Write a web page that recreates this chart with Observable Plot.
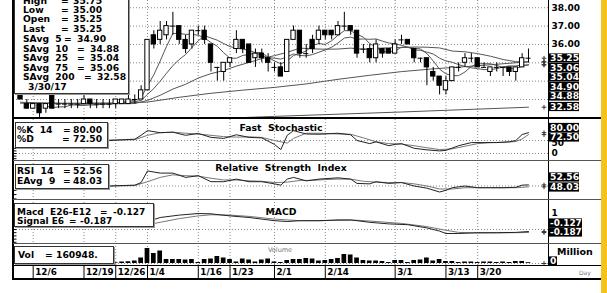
<!DOCTYPE html>
<html><head><meta charset="utf-8">
<script src="https://cdn.jsdelivr.net/npm/d3@7"></script>
<script src="https://cdn.jsdelivr.net/npm/@observablehq/plot@0.6"></script>
<style>
html,body{margin:0;padding:0;background:#fff;}
#wrap{position:relative;width:607px;height:293px;overflow:hidden;background:#fff;}
.box{position:absolute;background:#fff;border:1px solid #333;box-shadow:1px 1px 0 #9a9a9a;}
.t{position:absolute;font-family:"DejaVu Sans",sans-serif;font-weight:bold;font-size:9.2px;white-space:pre;line-height:1;transform:translateY(-50%);color:#000;}
.ln{position:absolute;}
</style></head><body><div id="wrap"></div>
<script>
// ---------------- DATA ----------------
const N = 81; // trading days, index 0 .. 80 (last = 3/30/17)
const dateLabels  = ["12/6","12/19","12/26","1/4","1/16","1/23","2/1","2/14","3/1","3/13","3/20"];
const dateLabelAt = [2, 10, 15, 20, 28, 33, 40, 48, 59, 67, 72];   // trading-day index of each label
const priceTicks  = [36, 37, 38];
const priceGrid   = [33, 34, 35, 36, 37, 38];
const stochTicks  = [0, 50];
const macdTicks   = [1];

const opens  = [33.25,32.75,32.5,32.75,32.5,33.25,32.75,32.75,32.75,32.75,32.75,33.0,32.75,32.75,32.75,32.75,32.75,32.75,33.0,33.0,
  33.5,36.5,36.25,36.5,37.0,37.0,36.25,36.0,36.75,36.75,36.0,34.75,34.5,35.0,35.75,36.25,36.0,35.25,35.5,35.25,
  34.75,34.75,34.5,36.25,36.75,35.5,36.25,36.25,36.75,36.75,36.5,37.0,37.0,36.75,35.75,35.75,35.25,35.75,35.75,35.5,
  36.25,36.25,35.75,35.25,35.25,34.5,34.25,33.5,34.0,34.75,35.0,35.25,35.25,34.75,34.5,34.75,34.75,34.75,34.5,34.75,35.25];
const highs  = [33.5,33.0,32.75,32.75,32.75,33.25,33.0,33.0,33.0,33.0,33.25,33.0,33.0,33.0,33.0,33.0,33.0,33.25,33.25,33.75,
  36.25,36.75,37.25,37.25,37.75,37.0,36.5,36.75,37.0,37.0,36.0,34.75,35.0,35.25,36.75,36.25,36.0,35.75,35.75,35.5,
  35.0,35.0,36.25,37.0,36.75,36.0,36.5,37.0,36.75,36.75,37.25,37.75,37.0,36.75,36.0,36.0,36.25,35.75,35.75,36.25,
  36.5,36.25,35.75,35.25,35.25,34.75,34.25,34.25,34.75,35.0,35.5,35.5,35.25,35.0,34.75,35.0,34.75,34.75,34.75,35.5,35.75];
const lows   = [33.0,32.5,32.5,32.0,32.25,32.5,32.5,32.5,32.5,32.5,32.75,32.5,32.5,32.5,32.5,32.5,32.75,32.75,32.75,33.0,
  33.5,35.75,36.0,36.25,36.5,36.0,35.5,35.75,36.5,36.0,34.5,34.0,34.0,34.75,35.5,35.5,35.0,34.75,35.0,34.5,
  34.5,34.25,34.5,36.25,35.25,35.25,35.5,36.0,36.25,36.25,36.5,36.75,36.5,35.25,35.5,35.0,35.0,35.25,35.5,35.5,
  36.0,36.0,35.0,35.0,33.75,34.0,33.25,33.25,34.0,34.5,34.75,35.0,34.75,34.75,34.25,34.5,34.25,34.25,34.0,34.75,35.0];
const closes = [33.0,32.5,32.75,32.25,32.75,32.5,32.75,32.75,32.75,32.75,33.0,32.75,32.75,32.75,32.75,33.0,33.0,33.0,33.0,33.5,
  36.25,36.0,36.75,37.0,37.0,36.25,35.75,36.75,36.75,36.25,35.0,34.75,35.0,35.25,36.25,35.75,35.0,35.5,35.25,35.0,
  34.75,34.25,36.25,36.75,35.5,35.5,35.75,36.75,36.5,36.5,37.0,37.0,36.75,35.5,35.75,35.25,36.0,35.5,35.5,36.0,
  36.25,36.0,35.25,35.25,34.75,34.25,33.75,34.0,34.75,34.75,35.25,35.25,34.75,34.75,34.75,34.75,34.75,34.5,34.75,35.25,35.25];
// volume, millions of shares
const volumes = [0.25,0.3,0.25,0.3,0.25,0.3,0.25,0.25,0.3,0.25,0.25,0.3,0.25,0.25,0.3,0.15,0.3,0.35,0.5,1.1,
  3.0,2.0,2.5,0.8,0.8,0.8,0.7,0.8,0.2,0.8,0.9,1.4,1.1,0.8,0.3,0.9,0.7,0.3,0.7,0.9,
  0.3,0.2,0.6,0.8,0.8,1.0,0.9,0.5,0.6,0.8,1.0,1.8,1.7,1.1,0.6,0.5,0.5,0.4,0.2,0.6,
  0.6,0.2,0.6,0.7,1.1,0.5,0.8,0.4,0.4,0.2,0.3,0.3,0.2,0.3,0.3,0.2,0.3,0.2,0.4,0.4,0.16];
const lastVolume = 160948;
const lastDate = "3/30/17";

// moving averages (as read)
const sma5 = [null,null,null,null,32.65,32.55,32.6,32.6,32.7,32.7,32.8,32.8,32.8,32.8,32.8,32.8,32.85,32.9,32.95,33.1,
  33.75,34.35,35.1,35.9,36.6,36.6,36.55,36.55,36.5,36.35,36.1,35.9,35.55,35.25,35.25,35.4,35.45,35.55,35.55,35.3,
  35.1,34.95,35.1,35.4,35.5,35.65,35.95,36.05,36.0,36.2,36.5,36.75,36.75,36.55,36.4,36.05,35.85,35.6,35.6,35.65,
  35.85,35.85,35.8,35.75,35.5,35.1,34.65,34.4,34.3,34.3,34.5,34.8,34.95,34.95,34.95,34.85,34.75,34.7,34.7,34.8,34.9];
const sma10 = [null,null,null,null,null,null,null,null,null,32.68,32.68,32.7,32.7,32.75,32.75,32.8,32.83,32.85,32.88,32.95,
  33.28,33.6,34.0,34.43,34.85,35.18,35.45,35.83,36.2,36.48,36.35,36.23,36.05,35.88,35.8,35.75,35.68,35.55,35.4,35.28,
  35.25,35.2,35.33,35.48,35.4,35.38,35.45,35.58,35.7,35.85,36.08,36.35,36.4,36.28,36.3,36.28,36.3,36.18,36.08,36.03,
  35.95,35.85,35.7,35.68,35.58,35.48,35.25,35.1,35.03,34.9,34.8,34.73,34.68,34.63,34.63,34.68,34.78,34.83,34.83,34.88,34.88];
const sma25 = [[0,32.85],[10,32.75],[18,32.78],[20,32.95],[22,33.23],[24,33.57],[26,33.83],[28,34.17],[30,34.41],[32,34.58],[34,34.82],
  [36,35.02],[38,35.23],[40,35.39],[42,35.57],[44,35.8],[46,35.76],[48,35.74],[50,35.75],[52,35.8],[54,35.73],[56,35.79],
  [58,35.82],[60,35.83],[62,35.86],[64,35.85],[66,35.81],[68,35.64],[70,35.6],[72,35.5],[74,35.36],[76,35.18],[78,35.06],[80,35.04]];
const sma75 = [[0,32.8],[10,32.8],[15,32.8],[20,32.86],[25,33.12],[30,33.34],[35,33.51],[40,33.66],[45,33.85],[50,34.1],
  [55,34.32],[60,34.52],[65,34.67],[70,34.79],[75,34.92],[80,35.06]];
const sma200 = [[0,31.55],[10,31.65],[20,31.78],[30,31.95],[40,32.08],[50,32.2],[60,32.32],[70,32.45],[80,32.58]];

// indicators (as read)
const stochK = [[0,55],[3,20],[6,45],[10,55],[14,50],[18,55],[19,70],[20,88],[22,80],[24,82],[26,70],[28,77],[30,62],[32,58],
  [34,72],[36,62],[38,60],[40,35],[41,15],[42,70],[43,88],[45,75],[47,74],[50,78],[52,72],[53,50],[55,38],[56,45],[58,30],
  [59,35],[60,38],[62,20],[64,14],[66,10],[67,12],[69,30],[71,42],[73,42],[75,42],[77,45],[78,50],[79,73],[80,80]];
const stochD = [[0,50],[3,35],[6,40],[10,50],[14,52],[18,53],[20,70],[22,80],[24,82],[26,78],[28,75],[30,70],[32,65],[34,63],
  [36,64],[38,62],[40,50],[42,40],[43,58],[45,78],[47,78],[50,75],[52,74],[54,60],[56,45],[58,38],[60,36],[62,30],[64,22],
  [66,15],[68,18],[70,28],[72,38],[74,42],[76,43],[78,46],[79,56],[80,72.5]];
const rsi = [[0,50],[14,50],[18,52],[19,58],[20,85],[22,80],[24,80],[26,70],[28,74],[30,60],[32,60],[34,66],[36,60],[38,60],
  [40,55],[41,52],[42,66],[43,70],[45,62],[47,66],[50,69],[52,66],[53,56],[55,55],[56,60],[58,56],[60,58],[62,50],[64,45],
  [66,36],[67,40],[68,46],[70,50],[72,46],[74,46],[76,46],[78,47],[79,52],[80,52.56]];
const rsiAvg = [[0,50],[14,50],[18,51],[20,60],[22,70],[24,76],[26,74],[28,73],[30,68],[32,64],[34,64],[36,62],[38,61],[40,58],
  [42,59],[44,63],[46,63],[48,65],[50,66],[52,66],[54,61],[56,59],[58,58],[60,58],[62,55],[64,50],[66,43],[68,43],[70,46],
  [72,46],[74,46],[76,46],[78,46],[80,48.03]];
const macd = [[20,0.55],[21,0.62],[22,0.75],[25,0.9],[28,1.0],[30,0.98],[33,0.85],[36,0.75],[40,0.55],[42,0.5],[44,0.55],
  [47,0.55],[50,0.6],[52,0.6],[55,0.45],[58,0.35],[61,0.3],[64,0.1],[66,-0.1],[67,-0.25],[69,-0.25],[72,-0.2],[75,-0.2],[78,-0.18],[80,-0.127]];
const signal = [[20,0.3],[22,0.45],[25,0.68],[28,0.85],[30,0.92],[33,0.9],[36,0.82],[40,0.65],[44,0.55],[47,0.55],[50,0.57],
  [53,0.58],[56,0.5],[60,0.38],[64,0.18],[67,-0.05],[69,-0.18],[72,-0.22],[75,-0.21],[78,-0.2],[80,-0.187]];

// ---------------- LAYOUT ----------------
const wrap = document.getElementById("wrap");
const XD = [-1.1, 83.15];              // index domain spanning the plotting area
const xs = d3.scaleLinear(XD, [13, 548]);
const TX1 = xs.invert(548.5);
const FONT = "DejaVu Sans";
const last = a => a[a.length - 1];
const lastV = a => Array.isArray(last(a)) ? last(a)[1] : last(a);
const pairs = a => a.map(([i, v]) => ({i, v}));
const series = a => a.map((v, i) => ({i, v}));

function panel(top, height, yDomain, yRange, marks) {
  const svg = Plot.plot({
    width: 607, height, marginLeft: 13, marginRight: 59, marginTop: 0, marginBottom: 0,
    x: {type: "linear", domain: XD, axis: null},
    y: {type: "linear", domain: yDomain, range: yRange, axis: null},
    style: {background: "none", overflow: "visible"},
    marks
  });
  svg.style.position = "absolute"; svg.style.left = "0px"; svg.style.top = top + "px";
  wrap.appendChild(svg);
}
// value tags at the right edge: black box, white text, placed at the row
function tags(list, yDomain, yRange, right = 579, fs = 9.2) {
  const ys = d3.scaleLinear(yDomain, yRange);
  const X2 = xs.invert(right);
  return [
    Plot.dot(list, {x: () => xs.invert(543.5), y: "v", symbol: "plus", r: 1.6, stroke: "#333", strokeWidth: 1}),
    ...list.flatMap(t => {
      const dy = t.at - ys(t.v);
      return [
        Plot.rect([t.v], {x1: () => TX1, x2: () => X2, y1: d => d, y2: d => d, insetTop: -4.6, insetBottom: -4.6, fill: "black", dy}),
        Plot.text([t.v], {x: () => TX1, y: d => d, text: () => t.label, textAnchor: "start", dx: 1, dy, fill: "white",
          fontWeight: "bold", fontSize: fs, fontFamily: FONT})
      ];
    })
  ];
}
const vgrid = () => Plot.ruleX(dateLabelAt, {x: d => d, stroke: "#888", strokeDasharray: "1,2"});
const leftTicks = vals => Plot.ruleY(vals, {y: d => d, x1: () => XD[0], x2: () => xs.invert(16.5), stroke: "#000", clip: true});
const axText = (vals, fmt, extra = {}) => Plot.text(vals, {x: () => XD[1], y: d => d, text: fmt, textAnchor: "start", dx: 3,
  fill: "black", fontWeight: "bold", fontSize: 9, fontFamily: FONT, ...extra});

// ---- price panel ----
const candles = d3.range(N).map(i => ({i, o: opens[i], h: highs[i], l: lows[i], c: closes[i]}));
const PD = [31.965, 38.395], PR = [118, 0];
panel(0, 118, PD, PR, [
  Plot.ruleY(priceGrid, {y: d => d, stroke: "#888", strokeDasharray: "1,2"}),
  vgrid(),
  Plot.line(pairs(sma200), {x: "i", y: "v", stroke: "#555", strokeWidth: 1, clip: true}),
  Plot.line(pairs(sma75), {x: "i", y: "v", stroke: "#555", strokeWidth: 1, clip: true}),
  Plot.line(pairs(sma25), {x: "i", y: "v", stroke: "#555", strokeWidth: 1, clip: true}),
  Plot.line(series(sma10), {x: "i", y: "v", stroke: "#555", strokeWidth: 1, clip: true}),
  Plot.line(series(sma5), {x: "i", y: "v", stroke: "#555", strokeWidth: 1, clip: true}),
  Plot.ruleX(candles, {x: "i", y1: "l", y2: "h", stroke: "black"}),
  Plot.rect(candles.filter(d => d.o !== d.c), {x1: d => d.i - 0.34, x2: d => d.i + 0.34, y1: "o", y2: "c",
    fill: d => d.c > d.o ? "white" : "black", stroke: "black", strokeWidth: 1}),
  Plot.ruleY(candles.filter(d => d.o === d.c), {y: "c", x1: d => d.i - 0.4, x2: d => d.i + 0.4, stroke: "black"}),
  axText(priceTicks, d => d.toFixed(2)),
  ...tags([
    {v: last(closes), at: 58}, {v: lastV(sma75), at: 67.5}, {v: lastV(sma25), at: 77},
    {v: lastV(sma5), at: 86.5}, {v: lastV(sma10), at: 96}, {v: lastV(sma200), at: 106.5}
  ].map(t => ({...t, label: t.v.toFixed(2)})), PD, PR)
]);

// ---- stochastic ----
const SD = [0, 100], SR = [34, 8];
panel(119, 41, SD, SR, [
  Plot.ruleY([0, 50], {y: d => d, stroke: "#888", strokeDasharray: "1,2"}),
  vgrid(),
  leftTicks([-20, -10, 0, 10, 20]),
  Plot.line(pairs(stochD), {x: "i", y: "v", stroke: "#777", strokeWidth: 1, clip: true}),
  Plot.line(pairs(stochK), {x: "i", y: "v", stroke: "#222", strokeWidth: 1, clip: true}),
  axText(stochTicks.slice(0, 1), d => String(d)),
  axText(stochTicks.slice(1), d => String(d), {dy: 3}),
  ...tags([{v: lastV(stochK), at: 8.5}, {v: lastV(stochD), at: 18}].map(t => ({...t, label: t.v.toFixed(2)})), SD, SR)
]);

// ---- RSI ----
const RD = [0, 100], RR = [47, 4];
panel(160, 39, RD, RR, [
  Plot.ruleY([50], {y: d => d, stroke: "#888", strokeDasharray: "1,2"}),
  vgrid(),
  leftTicks([20, 30, 40]),
  Plot.line(pairs(rsiAvg), {x: "i", y: "v", stroke: "#777", strokeWidth: 1, clip: true}),
  Plot.line(pairs(rsi), {x: "i", y: "v", stroke: "#222", strokeWidth: 1, clip: true}),
  ...tags([{v: lastV(rsi), at: 17}, {v: lastV(rsiAvg), at: 27}].map(t => ({...t, label: t.v.toFixed(2)})), RD, RR)
]);

// ---- MACD ----
const MD = [0, 1], MR = [30, 14];
panel(199, 44, MD, MR, [
  Plot.ruleY([0], {y: d => d, stroke: "#888", strokeDasharray: "1,2"}),
  vgrid(),
  leftTicks([-0.8, -0.6, -0.4, -0.2, 0]),
  Plot.line(pairs(signal), {x: "i", y: "v", stroke: "#777", strokeWidth: 1, clip: true}),
  Plot.line(pairs(macd), {x: "i", y: "v", stroke: "#222", strokeWidth: 1, clip: true}),
  axText(macdTicks, d => String(d)),
  ...tags([{v: lastV(macd), at: 24}, {v: lastV(signal), at: 33}].map(t => ({...t, label: t.v.toFixed(3)})), MD, MR, 582, 8.9)
]);

// ---- volume ----
const VD = [0, 3], VR = [20, 5];
panel(243, 22, VD, VR, [
  Plot.ruleY([0], {y: d => d, stroke: "#888", strokeDasharray: "1,2"}),
  vgrid(),
  Plot.rect(series(volumes), {x1: d => d.i - 0.37, x2: d => d.i + 0.37, y1: 0, y2: "v", fill: "black"}),
  ...tags([{v: 0, at: 18, label: "0"}], VD, VR, 557)
]);

// ---- date row ----
panel(265, 13, [0, 1], [13, 0], [
  Plot.ruleX(dateLabelAt, {x: d => d, y1: 0, y2: 1, stroke: "black"}),
  Plot.text(dateLabels, {x: (d, i) => dateLabelAt[i], y: 0.5, text: d => d, textAnchor: "start", dx: 2, dy: 0.5,
    fill: "black", fontWeight: "bold", fontSize: 8.8, fontFamily: FONT})
]);

// ---------------- frame lines & overlays ----------------
function line(x, y, w, h, color) {
  const d = document.createElement("div"); d.className = "ln";
  Object.assign(d.style, {left: x + "px", top: y + "px", width: w + "px", height: h + "px", background: color});
  wrap.appendChild(d);
}
line(12, 0, 2, 280, "#000");          // left frame
line(548, 0, 1, 265, "#000");         // right axis
line(12, 117, 589, 2, "#000");        // price bottom
line(13, 160, 588, 1, "#555");
line(13, 199, 588, 1, "#555");
line(13, 243, 588, 1, "#555");
line(13, 264.5, 588, 1, "#000");
line(12, 277.5, 589, 2, "#000");      // bottom
line(601, 0, 6, 293, "#f6c31c");      // yellow strip

function box(x, y, w, h) {
  const d = document.createElement("div"); d.className = "box";
  Object.assign(d.style, {left: x + "px", top: y + "px", width: w + "px", height: h + "px"});
  wrap.appendChild(d);
}
function txt(x, y, s, style = {}) {
  const d = document.createElement("div"); d.className = "t"; d.textContent = s;
  Object.assign(d.style, {left: x + "px", top: y + "px"}, style);
  wrap.appendChild(d);
}
const f2 = v => v.toFixed(2);

// price info box
box(14, -3, 113, 95);
const info = [
  ["High", 61, 73, f2(last(highs)), 0.5], ["Low", 61, 73, f2(last(lows)), 10], ["Open", 61, 73, f2(last(opens)), 19.3],
  ["Last", 61, 73, f2(last(closes)), 28.6], ["SAvg  5", 64, 77, f2(lastV(sma5)), 39.3], ["SAvg  10", 77, 90, f2(lastV(sma10)), 48.7],
  ["SAvg  25", 77, 90, f2(lastV(sma25)), 58.2], ["SAvg  75", 77, 90, f2(lastV(sma75)), 67.8], ["SAvg  200", 84, 97, f2(lastV(sma200)), 77.4]
];
for (const [lab, xe, xv, val, y] of info) { txt(23, y, lab); txt(xe, y, "="); txt(xv, y, val); }
txt(28, 87.2, lastDate);

// stochastic box
box(15, 122, 91, 24);
txt(17, 129.5, "%K  14"); txt(63, 129.5, "="); txt(73, 129.5, f2(lastV(stochK)));
txt(17, 139.3, "%D"); txt(62, 139.3, "="); txt(73, 139.3, f2(lastV(stochD)));
// RSI box
box(15, 164, 92, 23);
txt(17, 170.5, "RSI  14"); txt(63, 170.5, "="); txt(73, 170.5, f2(lastV(rsi)));
txt(17, 180.5, "EAvg  9"); txt(63, 180.5, "="); txt(73, 180.5, f2(lastV(rsiAvg)));
// MACD box
box(14, 203, 138, 22);
txt(17, 211.8, "Macd  E26-E12", {fontSize: "9px"}); txt(100, 211.8, "=", {fontSize: "9px"}); txt(113, 211.8, lastV(macd).toFixed(3), {fontSize: "9px"});
txt(17, 221.2, "Signal E6", {fontSize: "9px"}); txt(69, 221.2, "=", {fontSize: "9px"}); txt(80, 221.2, lastV(signal).toFixed(3), {fontSize: "9px"});
// volume box
box(14, 246, 98, 16);
txt(18, 254.5, "Vol"); txt(45, 254.5, "="); txt(56, 254.5, lastVolume + ".");

// panel titles
const title = (y, s) => txt(281, y, s, {transform: "translate(-50%,-50%)", fontSize: "9.3px"});
title(127.5, "Fast  Stochastic");
title(168, "Relative  Strength  Index");
title(212, "MACD");
txt(280, 249.5, "Volume", {transform: "translate(-50%,-50%)", fontSize: "6.5px", fontWeight: "normal", color: "#777"});
txt(557, 252, "Million", {fontSize: "9.5px"});
txt(579, 273, "Day", {fontSize: "6px", fontWeight: "normal", color: "#777"});
</script></body></html>
